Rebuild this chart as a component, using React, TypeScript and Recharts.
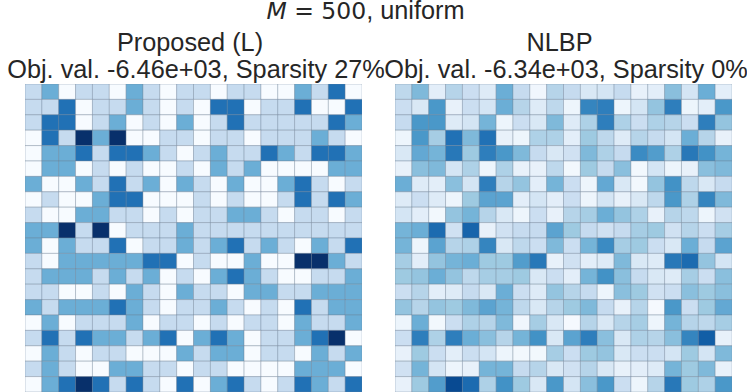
import { BarChart, Bar, Cell, XAxis, YAxis } from 'recharts';

const proposed = [
  [1,2,0,1,1,0,2,1,0,1,1,0,1,1,0,0,2,1,3,0],
  [1,1,3,0,1,1,2,1,0,1,0,3,3,0,1,1,3,0,0,3],
  [1,3,3,0,1,2,0,1,0,2,0,1,3,1,1,1,1,1,3,2],
  [0,3,1,4,2,4,0,0,1,1,0,1,1,0,1,1,1,2,1,0],
  [0,2,2,3,1,3,3,2,1,0,1,2,1,1,3,2,1,3,3,2],
  [0,2,2,0,1,0,1,0,0,1,0,2,1,2,0,0,0,0,2,2],
  [2,0,0,2,1,3,1,2,0,2,1,0,2,0,0,2,3,1,0,1],
  [0,1,0,0,2,3,3,0,0,0,1,0,1,0,0,1,3,1,3,2],
  [1,0,0,2,2,1,1,0,1,0,1,1,2,2,1,0,1,1,0,1],
  [2,2,4,1,4,0,1,1,1,2,1,1,1,1,1,1,1,1,1,1],
  [2,0,2,1,1,3,0,1,1,2,1,2,3,1,2,1,0,2,1,3],
  [1,0,2,2,2,2,2,3,3,0,1,0,0,2,0,0,4,4,2,1],
  [1,2,2,2,1,2,1,2,0,1,0,2,3,2,1,0,0,1,1,2],
  [1,1,0,0,1,0,2,1,0,2,1,1,0,2,2,1,1,2,2,2],
  [2,1,2,2,2,3,2,1,0,1,1,2,1,0,1,0,3,1,2,2],
  [0,2,0,1,1,1,2,0,1,1,0,1,0,1,1,0,2,1,1,2],
  [1,3,1,3,2,2,1,2,3,0,2,3,2,0,1,1,2,3,4,0],
  [0,2,1,0,1,1,0,0,0,2,1,2,2,0,1,1,0,2,1,2],
  [1,2,1,0,0,2,2,1,1,0,1,1,0,0,0,0,2,2,2,0],
  [0,2,3,4,3,1,3,1,0,3,0,2,3,1,0,1,3,2,1,3],
];

const nlbp = [
  [1.1,1.8,0.4,1.2,0.9,0.5,2.0,1.0,0.15,1.2,1.0,0.6,0.7,1.0,0.3,0.4,1.7,0.7,2.0,0.4],
  [0.9,0.6,2.4,0.3,0.9,0.7,2.0,1.2,0.5,1.1,0.2,2.7,2.8,0.2,0.7,1.6,2.8,0.2,0.4,2.4],
  [1.0,2.4,2.4,0.5,0.7,1.9,0.2,0.9,0.6,1.8,0.5,1.3,2.8,1.3,0.9,1.3,1.2,0.9,2.8,1.6],
  [0.2,2.4,1.4,3.0,1.8,3.0,0.3,0.2,1.3,1.3,0.4,1.5,1.1,0.5,1.2,1.0,0.7,2.0,1.2,0.3],
  [0.6,2.1,1.9,2.9,1.5,2.8,2.4,1.8,1.0,0.6,0.8,1.8,1.3,1.0,2.6,2.3,1.3,2.9,2.5,1.9],
  [0.3,1.7,1.8,0.7,1.3,0.2,1.3,0.3,0.3,1.1,0.1,1.5,1.0,1.7,0.1,0.7,0.2,0.3,1.7,1.8],
  [2.0,0.5,0.4,1.7,0.7,2.8,1.2,1.6,0.4,1.9,0.9,0.2,2.1,0.6,0.1,1.6,2.5,1.1,0.6,1.0],
  [0.5,0.9,0.5,0.2,1.5,2.2,2.2,0.4,0.7,0.4,0.9,0.2,0.7,0.3,0.6,1.1,2.4,1.3,2.7,1.8],
  [0.7,0.4,0.1,1.6,1.9,1.2,0.6,0.2,0.9,0.3,1.2,1.4,2.0,1.6,1.3,0.3,1.2,1.1,0.2,0.8],
  [1.9,2.0,3.1,0.8,3.2,0.3,0.8,1.0,1.0,2.2,1.5,1.0,0.8,1.0,1.4,1.5,0.8,1.2,0.9,1.4],
  [1.9,0.2,2.2,1.2,1.3,2.7,0.6,1.1,0.9,1.8,0.9,1.9,2.6,1.4,1.5,0.9,0.6,2.0,1.0,2.2],
  [1.4,0.4,1.6,1.9,2.0,1.5,1.5,2.3,2.9,0.3,0.8,0.4,0.5,1.8,0.6,0.5,2.9,3.1,1.6,0.7],
  [1.5,1.6,2.0,1.6,1.1,1.4,1.4,1.5,0.6,0.9,0.4,1.9,2.5,1.7,1.0,0.6,0.5,1.4,0.9,1.7],
  [0.9,1.2,0.4,0.5,1.0,0.6,2.0,0.9,0.5,1.6,1.2,1.0,0.2,1.7,1.5,0.8,0.9,1.7,1.5,1.7],
  [1.6,1.2,1.6,1.5,1.8,2.2,1.9,1.1,0.6,1.2,1.5,1.8,1.0,0.3,1.2,0.05,2.4,0.9,1.5,2.1],
  [0.2,2.0,0.1,0.9,1.3,1.2,1.8,0.15,1.4,0.6,0.05,1.2,0.6,1.2,1.4,0.2,1.9,1.2,1.1,1.4],
  [0.9,2.8,1.3,2.8,2.0,1.7,1.2,1.9,2.5,0.6,2.2,2.8,1.7,0.6,1.3,1.2,1.7,2.7,3.3,0.3],
  [0.3,1.5,0.9,0.4,0.9,0.7,0.2,0.1,0.1,1.4,0.9,1.5,1.6,0.6,0.9,0.9,0.7,1.5,0.7,1.8],
  [0.8,1.9,0.7,0.2,0.3,1.9,1.9,1.0,1.2,0.6,0.8,1.2,0.6,0.3,0.4,0.5,1.9,1.5,1.8,0.3],
  [0.3,1.5,2.3,3.6,3.1,1.3,2.5,1.5,0.6,2.4,0.7,1.7,2.4,0.9,0.2,1.2,2.9,1.5,1.3,2.4],
];

const columns = Array.from({ length: 20 }, (_, i) => i);

// matplotlib Blues, value range 0..4
const blues = ['#f7fbff', '#deebf7', '#c6dbef', '#9ecae1', '#6baed6', '#4292c6', '#2171b5', '#08519c', '#08306b'];

function hex(c: string) {
  return [1, 3, 5].map((i) => parseInt(c.slice(i, i + 2), 16));
}

function colorFor(v: number) {
  const t = Math.min(v / 4, 1) * (blues.length - 1);
  const i = Math.min(Math.floor(t), blues.length - 2);
  const a = hex(blues[i]);
  const b = hex(blues[i + 1]);
  const mix = a.map((x, k) => Math.round(x + (b[k] - x) * (t - i)));
  return `rgb(${mix.join(',')})`;
}

const titleFont = '"Liberation Sans", Arial, sans-serif';

function Heatmap({ rows, left }: { rows: number[][]; left: number }) {
  // every column is one bar, every row one unit tall stack segment
  const data = columns.map((c) => {
    const d: Record<string, number> = { col: c };
    rows.forEach((_, r) => {
      d[`r${r}`] = 1;
    });
    return d;
  });

  return (
    <div style={{ position: 'absolute', left, top: 83.5 }}>
      <BarChart
        width={337}
        height={308}
        data={data}
        margin={{ top: 0, right: 0, bottom: 0, left: 0 }}
        barCategoryGap={0}
        barGap={0}
      >
        <XAxis dataKey="col" hide />
        <YAxis type="number" domain={[0, 20]} reversed hide />
        {rows.map((row, r) => (
          <Bar
            key={r}
            dataKey={`r${r}`}
            stackId="cells"
            isAnimationActive={false}
            stroke="#6b7f94"
            strokeOpacity={0.55}
            strokeWidth={0.7}
          >
            {row.map((v, c) => (
              <Cell key={c} fill={colorFor(v)} />
            ))}
          </Bar>
        ))}
      </BarChart>
    </div>
  );
}

function Title({ text, center, top }: { text: string; center: number; top: number }) {
  return (
    <div
      style={{
        position: 'absolute',
        left: center - 250,
        width: 500,
        top,
        textAlign: 'center',
        fontFamily: titleFont,
        fontSize: 25.3,
        lineHeight: '28px',
        color: '#262626',
        whiteSpace: 'nowrap',
      }}
    >
      {text}
    </div>
  );
}

export default function App() {
  return (
    <div style={{ position: 'absolute', left: 0, top: 0, width: 747, height: 392, background: '#fff', overflow: 'hidden' }}>
      <svg width={747} height={30} style={{ position: 'absolute', left: 0, top: 0 }}>
        <text x={365.5} y={19} textAnchor="middle" fontFamily={titleFont} fontSize={25.3} fill="#262626">
          <tspan fontFamily='"DejaVu Sans"' fontStyle="italic" fontSize={23.5}>M</tspan>
          <tspan fontFamily='"DejaVu Sans"' fontSize={23.5}> = 500</tspan>
          <tspan>, uniform</tspan>
        </text>
      </svg>
      <Title text="Proposed (L)" center={190} top={28} />
      <Title text="Obj. val. -6.46e+03, Sparsity 27%" center={196} top={55} />
      <Title text="NLBP" center={559.5} top={28} />
      <Title text="Obj. val. -6.34e+03, Sparsity 0%" center={566} top={55} />
      <Heatmap rows={proposed} left={24.5} />
      <Heatmap rows={nlbp} left={394.5} />
    </div>
  );
}
